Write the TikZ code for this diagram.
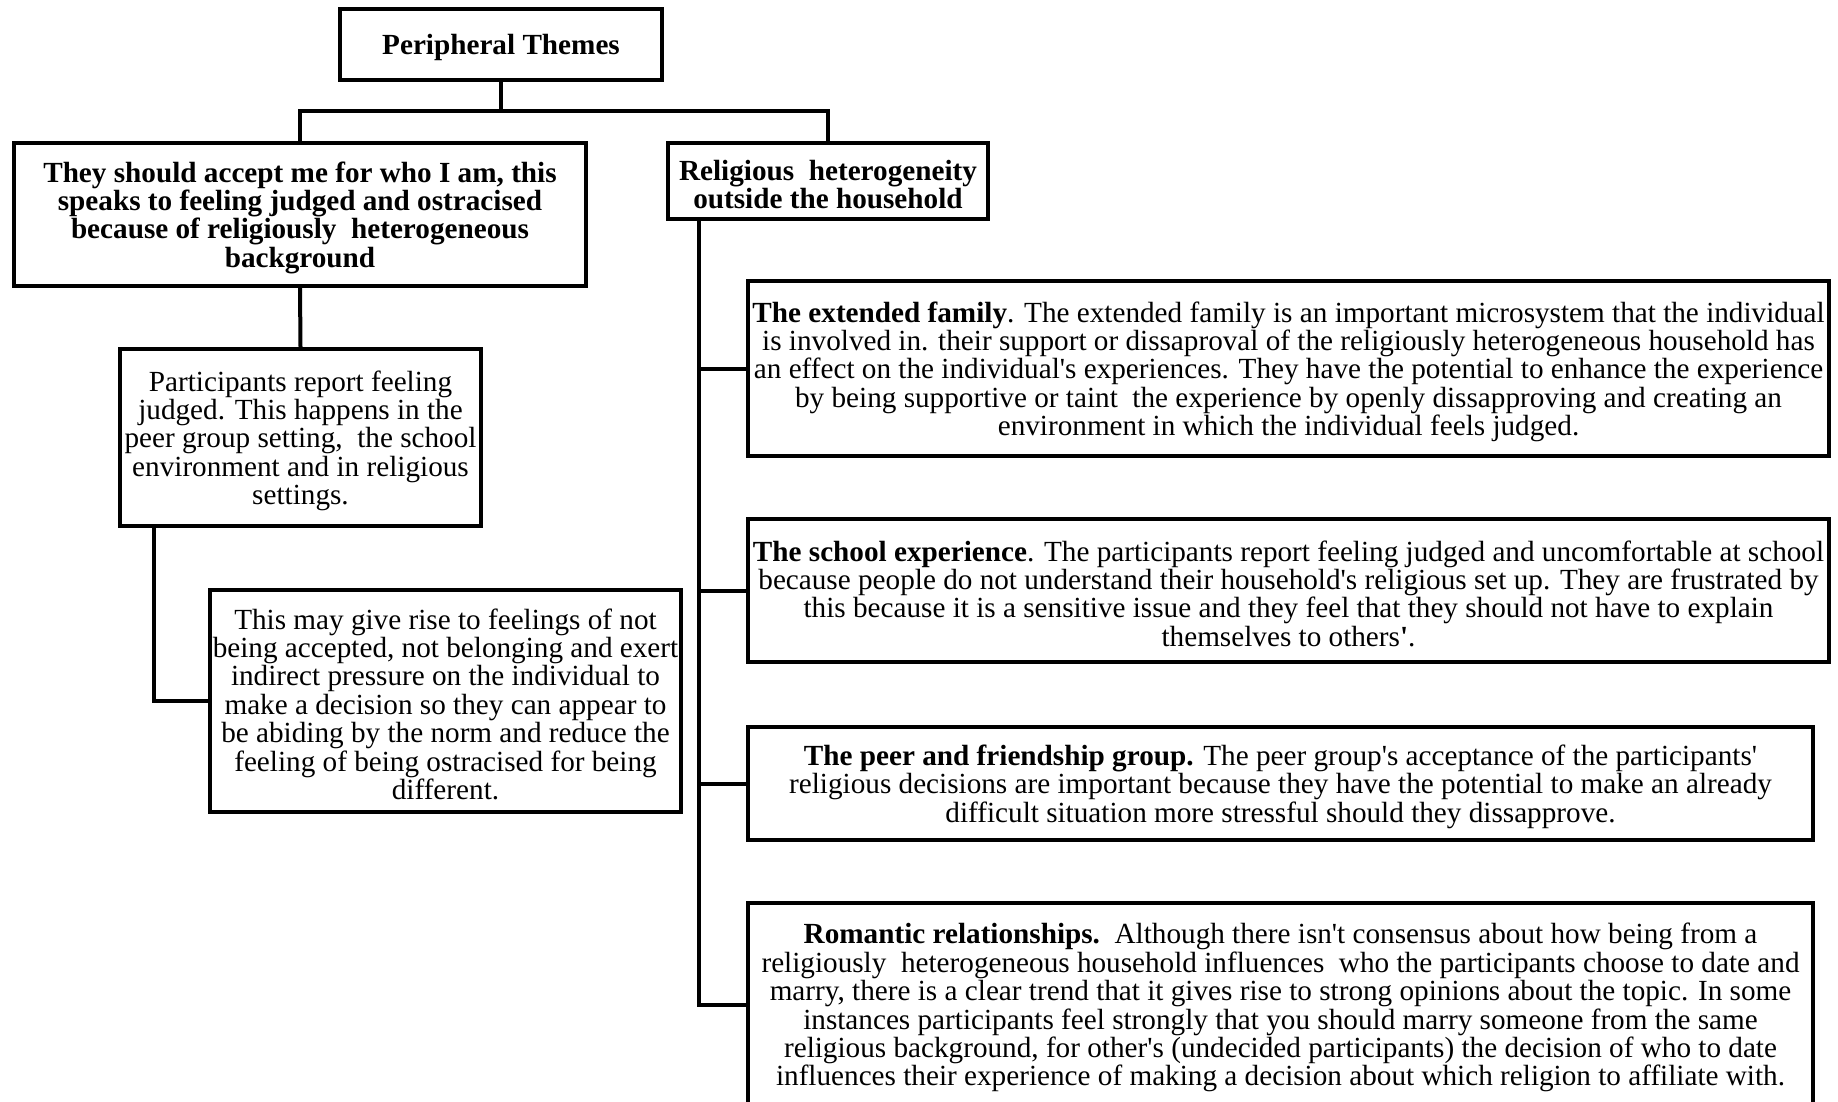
\documentclass[tikz,border=0pt]{standalone}
\usepackage{fontspec}
\setmainfont{Liberation Serif}[Ligatures=TeXOff]
\newcommand\tfix{\rule{0pt}{27pt}}
\tikzset{
  box/.style={draw, line width=4pt, inner sep=0pt, align=center, font=\fontsize{29.2}{28.4}\selectfont},
  hbox/.style={box, font=\bfseries\fontsize{29.2}{28.4}\selectfont},
  conn/.style={line width=4pt}
}
\begin{document}
\begin{tikzpicture}[x=1pt,y=-1pt]
\useasboundingbox (0,0) rectangle (1838,1102);
\clip (0,0) rectangle (1838,1102);
\node[hbox, minimum width=322pt, minimum height=71pt] (top) at (501,44.5) {\tfix Peripheral Themes};
\node[hbox, minimum width=572pt, minimum height=143pt] (L1) at (300,214.5) {\tfix They should accept me for who I am, this\\speaks to feeling judged and ostracised\\because of religiously\ \ heterogeneous\\background};
\node[hbox, minimum width=320pt, minimum height=76pt] (R1) at (828,181) {\tfix Religious\ \ heterogeneity\\outside the household};
\node[box, minimum width=361pt, minimum height=177pt] (L2) at (300.5,437.5) {\tfix Participants report feeling\\judged. This happens in the\\peer group setting,\ \ the school\\environment and in religious\\settings.};
\node[box, minimum width=471pt, minimum height=222pt] (L3) at (445.5,701) {\tfix This may give rise to feelings of not\\being accepted, not belonging and exert\\indirect pressure on the individual to\\make a decision so they can appear to\\be abiding by the norm and reduce the\\feeling of being ostracised for being\\different.};
\node[box, minimum width=1081pt, minimum height=175pt] (R2) at (1288.5,368.5) {\tfix\textbf{The extended family}. The extended family is an important microsystem that the individual\\is involved in. their support or dissaproval of the religiously heterogeneous household has\\an effect on the individual's experiences. They have the potential to enhance the experience\\by being supportive or taint\ \ the experience by openly dissapproving and creating\ an\\environment in which the individual feels judged.};
\node[box, minimum width=1081pt, minimum height=143pt] (R3) at (1288.5,590.5) {\tfix\textbf{The school experience}. The participants report feeling judged and uncomfortable at school\\because people do not understand their household's religious set up. They are frustrated by\\this because it is a sensitive issue and they feel that they should not have to explain\\themselves to others\textbf{'}.};
\node[box, minimum width=1065pt, minimum height=113pt] (R4) at (1280.5,783.5) {\tfix\textbf{The peer and friendship group.} The peer group's acceptance of the participants'\\religious decisions are important because they have the potential to make an already\\difficult situation more stressful should they dissapprove.};
\node[box, minimum width=1065pt, minimum height=203pt] (R5) at (1280.5,1004.5) {\tfix\textbf{Romantic relationships.}\ \ Although there isn't consensus about how being from a\\religiously\ \ heterogeneous household influences\ \ who the participants choose to date and\\marry, there is a clear trend that it gives rise to strong opinions about the topic. In some\\instances participants feel strongly that you should marry someone from the same\\religious background, for other's (undecided participants) the decision of who to date\\influences their experience of making a decision about which religion to affiliate with.};
\coordinate (bus) at (501,111);
\draw[conn] (top.south) -- (bus);
\draw[conn] (L1.north) |- (bus) -| (R1.north);
\draw[conn] (L1.south) -- (L2.north);
\coordinate (l2b) at ([xshift=36pt]L2.south west);
\draw[conn] (l2b) |- (L3.west);
\coordinate (trunk) at ([xshift=33pt]R1.south west);
\draw[conn] (trunk) |- (R5.west);
\draw[conn] (trunk |- R2.west) -- (R2.west);
\draw[conn] (trunk |- R3.west) -- (R3.west);
\draw[conn] (trunk |- R4.west) -- (R4.west);
\end{tikzpicture}
\end{document}
